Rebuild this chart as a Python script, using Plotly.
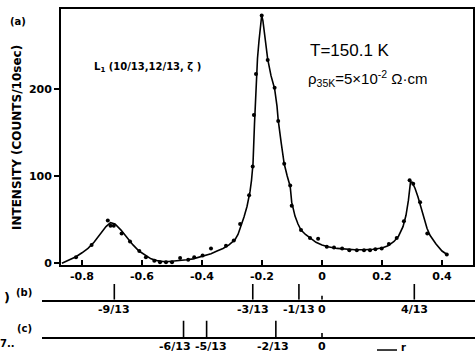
import plotly.graph_objects as go

# ---- data ----
pts_x = [-0.82, -0.768, -0.714, -0.705, -0.694, -0.668, -0.640, -0.609, -0.587, -0.559,
         -0.540, -0.520, -0.500, -0.473, -0.446, -0.426, -0.398, -0.370, -0.320, -0.294,
         -0.273, -0.243, -0.231, -0.227, -0.220, -0.201, -0.181, -0.158, -0.146, -0.126,
         -0.106, -0.101, -0.070, -0.040, -0.013, 0.016, 0.040, 0.067, 0.091, 0.116,
         0.140, 0.160, 0.178, 0.199, 0.223, 0.249, 0.273, 0.292, 0.304, 0.327, 0.351, 0.416]
pts_y = [7, 21, 49, 43, 43, 34, 25, 14, 7, 3,
         1, 1, 1, 6, 4, 7, 9, 17, 20, 26,
         45, 78, 111, 170, 217, 284, 233, 201, 163, 114,
         89, 66, 38, 29, 28, 19, 18, 17, 15, 15,
         15, 15, 16, 17, 22, 29, 48, 95, 91, 70, 34, 10]

fit_x = [-0.867, -0.84, -0.82, -0.80, -0.78, -0.76, -0.74, -0.72, -0.705, -0.69, -0.67, -0.65,
         -0.63, -0.61, -0.59, -0.57, -0.55, -0.53, -0.51, -0.49, -0.47, -0.45, -0.43, -0.41,
         -0.39, -0.37, -0.35, -0.33, -0.31, -0.29, -0.28, -0.27, -0.26, -0.25, -0.24, -0.235,
         -0.23, -0.225, -0.22, -0.215, -0.21, -0.205, -0.201, -0.197, -0.19, -0.181, -0.17,
         -0.158, -0.15, -0.146, -0.136, -0.126, -0.116, -0.106, -0.101, -0.09, -0.08, -0.07,
         -0.055, -0.04, -0.02, 0.0, 0.02, 0.05, 0.08, 0.11, 0.14, 0.17, 0.20, 0.22, 0.24,
         0.255, 0.27, 0.28, 0.288, 0.295, 0.30, 0.31, 0.32, 0.33, 0.34, 0.35, 0.36, 0.38,
         0.40, 0.417]
fit_y = [0, 4, 7.5, 12, 17, 24, 33, 42, 46.5, 45, 38, 29,
         21, 14, 9, 5, 3, 2, 2, 2.5, 3, 4, 5, 7,
         9, 11, 14, 17, 21, 27, 33, 42, 53, 65, 82, 95,
         114, 160, 200, 235, 255, 274, 284, 278, 258, 234, 215,
         200, 180, 164, 138, 114, 100, 88, 70, 54, 45, 38,
         33, 29, 24, 21, 19, 17, 16, 15.5, 15.5, 16, 17.5, 20, 25,
         31, 42, 55, 72, 93, 93, 86, 76, 64, 52, 40, 32, 22,
         14, 10]

x_ticks = [-0.8, -0.6, -0.4, -0.2, 0, 0.2, 0.4]
x_ticktext = ["-0.8", "-0.6", "-0.4", "-0.2", "0", "0.2", "0.4"]
y_ticks = [0, 100, 200]

b_pos = [-9/13, -3/13, -1/13, 0, 4/13]
b_text = ["-9/13", "-3/13", "-1/13", "0", "4/13"]
b_height = [1, 1, 1, 0.25, 1]
c_pos = [-6/13, -5/13, -2/13, 0]
c_text = ["-6/13", "-5/13", "-2/13", "0"]
c_height = [1, 1, 1, 0.25]
c_shift = [-9, 4, -3, 0]

W, H = 475, 356
def py(p):
    return 1 - p / H

FAM = "DejaVu Sans, Liberation Sans, sans-serif"
FONT = dict(family=FAM, size=11, color="black", weight="bold")

fig = go.Figure()
fig.add_trace(go.Scatter(x=fit_x, y=fit_y, mode="lines", line=dict(color="black", width=1.6),
                         xaxis="x", yaxis="y", showlegend=False, hoverinfo="skip"))
fig.add_trace(go.Scatter(x=pts_x, y=pts_y, mode="markers", marker=dict(color="black", size=4),
                         xaxis="x", yaxis="y", showlegend=False))

def marks(pos, hgt):
    xs, ys = [], []
    for p, h in zip(pos, hgt):
        xs += [p, p, None]
        ys += [0, h, None]
    return xs, ys

bx, by = marks(b_pos, b_height)
fig.add_trace(go.Scatter(x=bx, y=by, mode="lines", line=dict(color="black", width=1.6),
                         xaxis="x2", yaxis="y2", showlegend=False, hoverinfo="skip"))
cx, cy = marks(c_pos, c_height)
fig.add_trace(go.Scatter(x=cx, y=cy, mode="lines", line=dict(color="black", width=1.6),
                         xaxis="x3", yaxis="y3", showlegend=False, hoverinfo="skip"))

x0 = (61 - 322) / 300
x1 = (473 - 322) / 300
y0 = (267 - 269) / 0.885
y1 = (267 - 9) / 0.885
bx0 = (42 - 322) / 300
bx1 = (475 - 322) / 300

common_sub = dict(showline=True, linecolor="black", linewidth=1.6, ticks="", showgrid=False,
                  zeroline=False, showticklabels=False)

fig.update_layout(
    width=W, height=H, margin=dict(l=0, r=0, t=0, b=0),
    paper_bgcolor="white", plot_bgcolor="white", showlegend=False,
    font=FONT,
    xaxis=dict(domain=[61 / W, 473 / W], range=[x0, x1], showline=True, mirror=True,
               linecolor="black", linewidth=1.8, ticks="inside", ticklen=5, tickwidth=1.5,
               tickcolor="black", tickvals=x_ticks, ticktext=x_ticktext, showgrid=False,
               zeroline=False, anchor="y", tickfont=FONT, tickangle=0),
    yaxis=dict(domain=[py(269), py(9)], range=[y0, y1], showline=True, mirror=True,
               linecolor="black", linewidth=1.8, ticks="outside", ticklen=5, tickwidth=1.5,
               tickcolor="black", tickvals=y_ticks, showgrid=False, zeroline=False,
               anchor="x", tickfont=FONT),
    xaxis2=dict(domain=[42 / W, 1], range=[bx0, bx1], anchor="y2", **common_sub),
    yaxis2=dict(domain=[py(304), py(288)], range=[0, 1], visible=False, anchor="x2"),
    xaxis3=dict(domain=[42 / W, 1], range=[bx0, bx1], anchor="y3", **common_sub),
    yaxis3=dict(domain=[py(342), py(325)], range=[0, 1], visible=False, anchor="x3"),
)

for p, t in zip(b_pos, b_text):
    fig.add_annotation(text=t, x=p, xref="x2", y=py(314), yref="paper", showarrow=False,
                       font=FONT, xanchor="center", yanchor="middle")
for p, t, s in zip(c_pos, c_text, c_shift):
    fig.add_annotation(text=t, x=p, xref="x3", y=py(351), yref="paper", showarrow=False,
                       font=FONT, xanchor="center", yanchor="middle", xshift=s)

def ann(text, xp, ypx, size=11, weight="bold", family=None, angle=0, xanchor="center"):
    f = dict(FONT)
    f["size"] = size
    f["weight"] = weight
    if family:
        f["family"] = family
    fig.add_annotation(text=text, x=xp / W, y=py(ypx), xref="paper", yref="paper",
                       showarrow=False, font=f, textangle=angle, xanchor=xanchor,
                       yanchor="middle")

ann("INTENSITY (COUNTS/10sec)", 17, 140, size=12, angle=-90)
ann("(a)", 18, 22, size=10)
ann("L<sub>1</sub> (10/13,12/13, ζ )", 92, 68, size=10, xanchor="left")
hand = "Liberation Sans Narrow, Liberation Sans, sans-serif"
ann("T=150.1 K", 308, 51, size=17, weight="normal", family=hand, xanchor="left")
ann("ρ<sub>35K</sub>=5×10<sup>-2</sup> Ω·cm", 306, 80, size=15, weight="normal", family=hand,
    xanchor="left")
ann("(b)", 24, 297, size=10)
ann("(c)", 24, 333, size=10)
ann(")", 7, 302, size=13)
ann("7..", 7, 348, size=10)
ann("r", 403, 352, size=10)
fig.add_shape(type="line", xref="paper", yref="paper", x0=377 / W, x1=397 / W,
              y0=py(355), y1=py(355), line=dict(color="black", width=1.5))

fig.write_html("out.html")
